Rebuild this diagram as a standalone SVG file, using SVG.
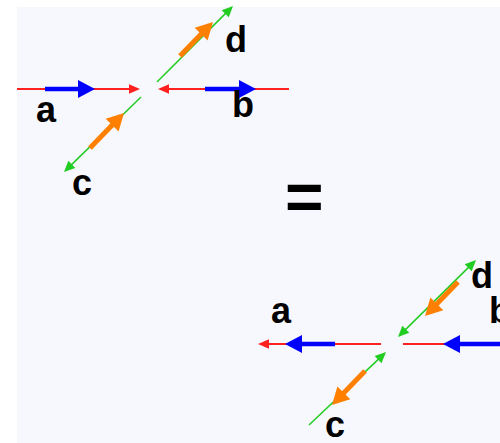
<svg xmlns="http://www.w3.org/2000/svg" width="500" height="443" viewBox="0 0 500 443">
<style>
.r{stroke:#ff2020;stroke-width:1.8;fill:none}
.g{stroke:#22cc22;stroke-width:1.5;fill:none}
.bl{stroke:#0000ff;stroke-width:4.5;fill:none}
.o{stroke:#ff8000;stroke-width:5;fill:none}
.t{font-family:"Liberation Sans",Arial,sans-serif;font-weight:bold;font-size:36px;fill:#000}
</style>
<defs>
<marker id="hr" markerUnits="userSpaceOnUse" markerWidth="20" markerHeight="20" refX="0" refY="0" orient="auto" overflow="visible"><path d="M2,0 L-9,-4.8 L-9,4.8 Z" fill="#ff2020"/></marker>
<marker id="hg" markerUnits="userSpaceOnUse" markerWidth="20" markerHeight="20" refX="0" refY="0" orient="auto-start-reverse" overflow="visible"><path d="M2,0 L-9,-5 L-9,5 Z" fill="#22cc22"/></marker>
<marker id="hb" markerUnits="userSpaceOnUse" markerWidth="30" markerHeight="30" refX="0" refY="0" orient="auto" overflow="visible"><path d="M5,0 L-12,-9 L-12,9 Z" fill="#0000ff"/></marker>
<marker id="ho" markerUnits="userSpaceOnUse" markerWidth="30" markerHeight="30" refX="0" refY="0" orient="auto" overflow="visible"><path d="M5,0 L-12,-9 L-12,9 Z" fill="#ff8000"/></marker>
</defs>
<rect x="17" y="7" width="483" height="436" fill="#f7f8fd"/>
<g id="connectors">
<line class="r" x1="17" y1="89" x2="138" y2="89" marker-end="url(#hr)"/>
<line class="bl" x1="45" y1="89" x2="90" y2="89" marker-end="url(#hb)"/>
<line class="r" x1="289" y1="89" x2="160" y2="89" marker-end="url(#hr)"/>
<line class="bl" x1="205" y1="89" x2="251" y2="89" marker-end="url(#hb)"/>
<line class="g" x1="157" y1="82" x2="231.6" y2="7.4" marker-end="url(#hg)"/>
<line class="o" x1="180" y1="56" x2="209.5" y2="25.5" marker-end="url(#ho)"/>
<line class="g" x1="141" y1="97" x2="65.4" y2="170.6" marker-end="url(#hg)"/>
<line class="o" x1="90" y1="148" x2="120.5" y2="116.5" marker-end="url(#ho)"/>
<line class="r" x1="381" y1="344" x2="260" y2="344" marker-end="url(#hr)"/>
<line class="bl" x1="335" y1="344" x2="290" y2="344" marker-end="url(#hb)"/>
<line class="r" x1="500" y1="344" x2="403" y2="344"/>
<line class="bl" x1="500" y1="344" x2="448" y2="344" marker-end="url(#hb)"/>
<line class="g" x1="399.4" y1="335.6" x2="474.6" y2="261.4" marker-start="url(#hg)" marker-end="url(#hg)"/>
<line class="o" x1="458" y1="282" x2="428.5" y2="312.5" marker-end="url(#ho)"/>
<line class="g" x1="309" y1="425" x2="384.6" y2="353.4" marker-end="url(#hg)"/>
<line class="o" x1="365" y1="371" x2="335.5" y2="401.5" marker-end="url(#ho)"/>
</g>
<g id="label-a1"><text class="t" x="36" y="122">a</text></g>
<g id="label-b1"><text class="t" x="232" y="117">b</text></g>
<g id="label-c1"><text class="t" x="72" y="195">c</text></g>
<g id="label-d1"><text class="t" x="225" y="52">d</text></g>
<g id="equals"><text class="t" x="285" y="220" style="font-size:66px">=</text></g>
<g id="label-a2"><text class="t" x="271" y="323">a</text></g>
<g id="label-b2"><text class="t" x="489" y="323">b</text></g>
<g id="label-c2"><text class="t" x="325" y="437">c</text></g>
<g id="label-d2"><text class="t" x="471" y="288">d</text></g>
</svg>
